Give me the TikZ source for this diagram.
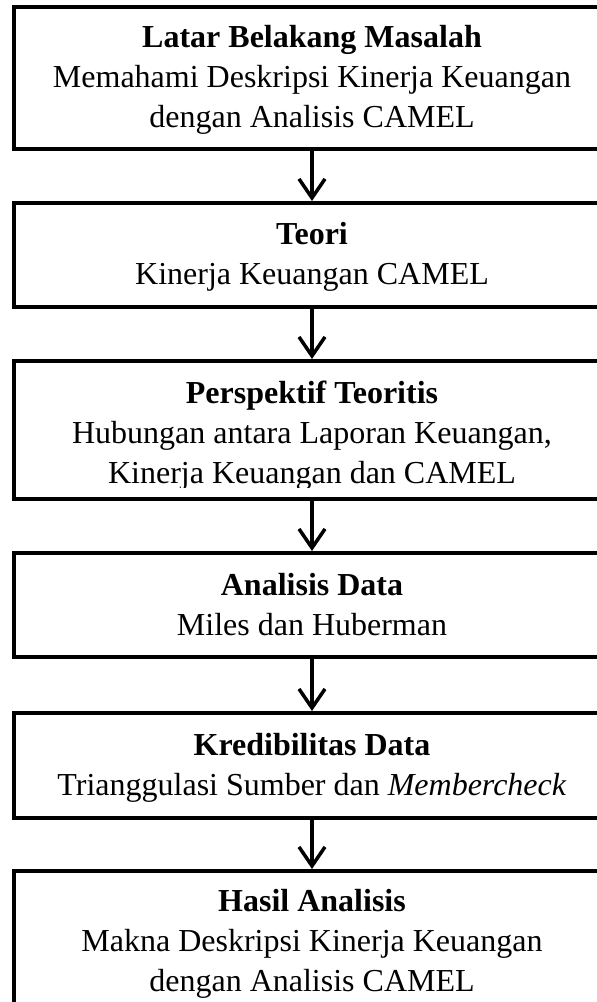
\documentclass[tikz,border=0pt]{standalone}
\usepackage{fontspec}
\setmainfont{Liberation Serif}
\usetikzlibrary{arrows.meta}
\tikzset{
  box/.style={draw=black, line width=4pt, rectangle, minimum width=596pt, inner sep=0pt, fill=none},
  txt/.style={anchor=base, inner sep=0pt, font=\fontsize{32}{40}\selectfont},
  ttl/.style={txt, font=\fontsize{32}{40}\selectfont\bfseries},
  arr/.style={line width=3.5pt, -{Straight Barb[length=19pt,width=26pt,line width=3.5pt]}}
}
\begin{document}
\begin{tikzpicture}[x=1pt,y=-1pt]
\useasboundingbox (0,0) rectangle (597,1002);
\clip (0,0) rectangle (597,1002);
% boxes
\node[box, minimum height=142pt] (b1) at (312,78) {};
\node[box, minimum height=104pt] (b2) at (312,255) {};
\node[box, minimum height=138pt] (b3) at (312,430) {};
\node[box, minimum height=104pt] (b4) at (312,605) {};
\node[box, minimum height=105pt] (b5) at (312,765.5) {};
\node[box, minimum height=142pt] (b6) at (312,942) {};
% texts
\node[ttl] (t1a) at (312,47) {Latar Belakang Masalah};
\node[txt] (t1b) at (312,87) {Memahami Deskripsi Kinerja Keuangan};
\node[txt] (t1c) at (312,127) {dengan Analisis CAMEL};
\node[ttl] (t2a) at (312,244) {Teori};
\node[txt] (t2b) at (312,284) {Kinerja Keuangan CAMEL};
\begin{scope}
\clip (14,361) rectangle (610,487);
\node[ttl] (t3a) at (312,403) {Perspektif Teoritis};
\node[txt] (t3b) at (312,443) {Hubungan antara Laporan Keuangan,};
\node[txt] (t3c) at (312,483) {Kinerja Keuangan dan CAMEL};
\end{scope}
\node[ttl] (t4a) at (312,595) {Analisis Data};
\node[txt] (t4b) at (312,635) {Miles dan Huberman};
\node[ttl] (t5a) at (312,755) {Kredibilitas Data};
\node[txt] (t5b) at (312,795) {Trianggulasi Sumber dan \textit{Membercheck}};
\node[ttl] (t6a) at (312,911) {Hasil Analisis};
\node[txt] (t6b) at (312,951) {Makna Deskripsi Kinerja Keuangan};
\node[txt] (t6c) at (312,991) {dengan Analisis CAMEL};
% arrows
\draw[arr] (b1.south) -- (b2.north);
\draw[arr] (b2.south) -- (b3.north);
\draw[arr] (b3.south) -- (b4.north);
\draw[arr] (b4.south) -- (b5.north);
\draw[arr] (b5.south) -- (b6.north);
\end{tikzpicture}
\end{document}
